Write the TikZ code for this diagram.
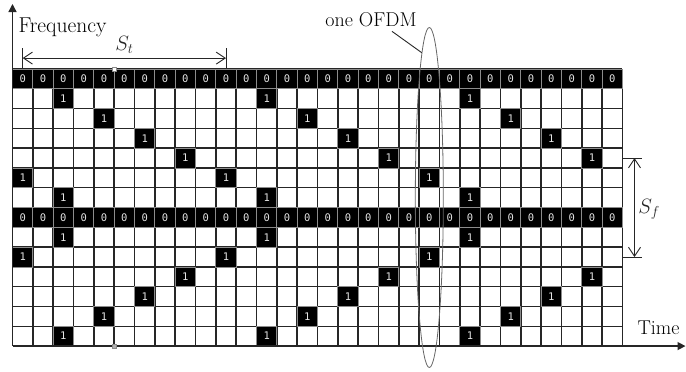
\documentclass[tikz,border=0pt]{standalone}
\usepackage{fontspec}
\usepackage{tikz}
\usetikzlibrary{arrows.meta,positioning,calc,shapes.geometric}
\newfontfamily\cellfont{DejaVu Sans Mono}
\def\gx{12.5}
\def\gy{69}
\def\cw{20.333}
\def\ch{19.79}

\begin{document}
\begin{tikzpicture}[x=1pt, y=-1pt,
    gridln/.style={line width=1.4pt, black!85},
    cell/.style={draw=black!45, line width=0.8pt, fill=black, text=white!90!black, inner sep=0pt,
                 minimum width=20.33pt, minimum height=19.79pt,
                 font=\cellfont\fontsize{10.5}{11}\selectfont},
    axis/.style={-{Triangle[length=8pt,width=8pt]}, line width=1.4pt, black!85},
    dimln/.style={line width=0.9pt, black!85},
    dimarr/.style={{Straight Barb[length=9pt,width=12pt]}-{Straight Barb[length=9pt,width=12pt]}, line width=0.9pt, black!85},
    tlbl/.style={font=\fontsize{20}{24}\selectfont},
    mlbl/.style={font=\fontsize{22}{26}\selectfont},
    handle/.style={draw=black!45, line width=0.6pt, minimum size=4pt, inner sep=0pt}]
    \useasboundingbox (0,0) rectangle (686,372);
    \foreach \i in {1,...,30}
      \draw[gridln] ({\gx+\i*\cw},\gy) -- ({\gx+\i*\cw},{\gy+14*\ch});
    \foreach \j in {0,...,13}
      \draw[gridln] (\gx,{\gy+\j*\ch}) -- ({\gx+30*\cw},{\gy+\j*\ch});
    \foreach \rw in {0,7}
      \foreach \cl in {0,...,29}
        \node[cell] (z-\rw-\cl) at ({\gx+(\cl+0.5)*\cw},{\gy+(\rw+0.5)*\ch}) {0};
    \foreach \rw/\cl in {1/2,2/4,3/6,4/8,5/0,6/2,8/2,9/0,10/8,11/6,12/4,13/2}
      \foreach \k in {0,10,20} {
        \pgfmathtruncatemacro\cc{\cl+\k}
        \node[cell] (p-\rw-\cc) at ({\gx+(\cc+0.5)*\cw},{\gy+(\rw+0.5)*\ch}) {1};
      }
    \coordinate (o) at (\gx,{\gy+14*\ch});
    \coordinate (ftop) at (\gx,4);
    \coordinate (tend) at (685.5,{\gy+14*\ch});
    \draw[axis] (o) -- (ftop);
    \draw[axis] (o) -- (tend);
    \node[tlbl, font=\fontsize{21.5}{25}\selectfont, anchor=base west] (freq) at (15,32) {Frequency};
    \node[tlbl, anchor=base west] (time) at (634,334) {Time};
    \draw[dimln] (z-0-0.north) -- ++(0,-21);
    \draw[dimln] (z-0-10.north) -- ++(0,-21);
    \draw[dimarr] ($(z-0-0.north)+(0,-10.5)$) -- ($(z-0-10.north)+(0,-10.5)$)
      node[mlbl, midway, anchor=base, yshift=7.5pt] (st) {$S_t$};
    \coordinate (sf-a) at ({\gx+30*\cw},{\gy+4.5*\ch});
    \coordinate (sf-b) at ({\gx+30*\cw},{\gy+9.5*\ch});
    \draw[dimln] (sf-a) -- ++(20,0);
    \draw[dimln] (sf-b) -- ++(20,0);
    \draw[dimarr] ($(sf-a)+(12,0)$) -- ($(sf-b)+(12,0)$)
      node[mlbl, midway, anchor=base west, yshift=-5.5pt] (sf) {$S_f$};
    \node[handle, fill=white] (h-top) at ({\gx+5*\cw},\gy) {};
    \node[handle, fill=black!30] (h-bot) at ({\gx+5*\cw},{\gy+14*\ch}) {};
    \node[draw=black!60, line width=0.8pt, ellipse, minimum width=28pt, minimum height=340pt,
          inner sep=0pt] (ofdm) at ({\gx+20.5*\cw},197.5) {};
    \node[tlbl, anchor=base] (ofdm-lbl) at (371,26) {one OFDM};
    \draw[line width=0.9pt, black!85] ([xshift=21pt,yshift=-1.5pt]ofdm-lbl.south) -- (ofdm.93.4);
  \end{tikzpicture}
\end{document}
